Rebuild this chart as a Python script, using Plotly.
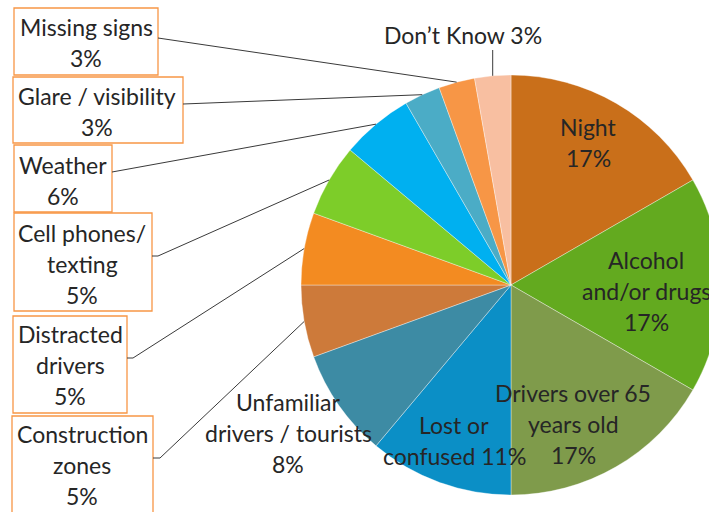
import math
import plotly.graph_objects as go

# ---------------- data ----------------
categories = ["Night", "Alcohol and/or drugs", "Drivers over 65 years old",
              "Lost or confused", "Unfamiliar drivers / tourists",
              "Construction zones", "Distracted drivers", "Cell phones/ texting",
              "Weather", "Glare / visibility", "Missing signs", "Don’t Know"]
counts = [6, 6, 6, 4, 3, 2, 2, 2, 2, 1, 1, 1]
pct_labels = ["17%", "17%", "17%", "11%", "8%", "5%", "5%", "5%", "6%", "3%", "3%", "3%"]

# ---------------- styles / layout ----------------
colors = ["#C96F1A", "#63AA1F", "#7F9B4B", "#0B8FC6", "#3D8BA4", "#CD7A3A",
          "#F38B21", "#7DCD29", "#00B0F0", "#4BACC6", "#F79646", "#F8BFA1"]
label_templates = ["Night<br>{p}", "Alcohol<br>and/or drugs<br>{p}",
                   "Drivers over 65<br>years old<br>{p}", "Lost or<br>confused {p}",
                   "Unfamiliar<br>drivers / tourists<br>{p}", "Construction<br>zones<br>{p}",
                   "Distracted<br>drivers<br>{p}", "Cell phones/<br>texting<br>{p}",
                   "Weather<br>{p}", "Glare / visibility<br>{p}", "Missing signs<br>{p}",
                   "Don’t Know {p}"]
# first-line centre of every label (pixels from top-left)
label_pos = [(588, 127), (646, 260), (573, 393), (454, 425), (288, 402),
             (82, 434), (70, 334), (82, 233), (63, 165), (97, 96), (86, 27), (463, 35)]
# boxed labels: (x0, y0, x1, y1) and leader start (x, y, elbow_dx)
boxes = {5: (12, 416, 153, 530), 6: (13, 316, 127, 413), 7: (14, 213, 152, 311),
         8: (14, 145, 112, 212), 9: (13, 77, 183, 143), 10: (14, 8, 158, 75)}
leader_start = {5: (153, 458, 7), 6: (127, 358, 6), 7: (152, 256, 6),
                8: (112, 172, 0), 9: (183, 104, 0), 10: (158, 38, 0), 11: (None, 50, 0)}

W, H = 730, 512
CX, CY, R = 511, 285, 210
LINE = 31
FONT = "Lato, 'Open Sans', sans-serif"
TXT = "#262626"

def px(x):
    return x / W

def py(y):
    return 1 - y / H

fig = go.Figure(go.Pie(
    labels=categories, values=counts, sort=False, direction="clockwise",
    rotation=0, textinfo="none", hoverinfo="label+percent",
    marker=dict(colors=colors, line=dict(color="rgba(255,255,255,0.6)", width=0.6)),
    domain=dict(x=[px(CX - R), px(CX + R)], y=[py(CY + R), py(CY - R)]),
    showlegend=False,
))

annotations = []
shapes = []

# label text lines
for i, tpl in enumerate(label_templates):
    lines = tpl.format(p=pct_labels[i]).split("<br>")
    x0, y0 = label_pos[i]
    for k, ln in enumerate(lines):
        annotations.append(dict(
            x=px(x0), y=py(y0 + k * LINE), xref="paper", yref="paper",
            text=ln, showarrow=False, xanchor="center", yanchor="middle",
            font=dict(family=FONT, size=23, color=TXT)))

# boxes
for i, (x0, y0, x1, y1) in boxes.items():
    shapes.append(dict(type="rect", xref="paper", yref="paper",
                       x0=px(x0), x1=px(x1), y0=py(y1), y1=py(y0),
                       line=dict(color="#F79646", width=1.3), fillcolor="white",
                       layer="above"))

# leader lines, ending on the rim at each slice's middle angle
total = sum(counts)
cum = 0
mids = []
for c in counts:
    mids.append((cum + c / 2) / total)
    cum += c
for i, (sx, sy, elbow) in leader_start.items():
    ang = 2 * math.pi * mids[i]
    ex = CX + R * math.sin(ang)
    ey = CY - R * math.cos(ang)
    if sx is None:
        sx = ex
    pts = [(sx, sy)]
    if elbow:
        pts.append((sx + elbow, sy))
    pts.append((ex, ey))
    for (ax, ay), (bx, by) in zip(pts[:-1], pts[1:]):
        shapes.append(dict(type="line", xref="paper", yref="paper",
                           x0=px(ax), y0=py(ay), x1=px(bx), y1=py(by),
                           line=dict(color="#3A3A3A", width=1), layer="above"))

fig.update_layout(
    width=W, height=H, margin=dict(l=0, r=0, t=0, b=0),
    paper_bgcolor="white", plot_bgcolor="white",
    annotations=annotations, shapes=shapes,
)

fig.write_html("out.html", config={"displayModeBar": False},
               post_script="document.body.style.margin='0';document.body.style.overflow='hidden';")
